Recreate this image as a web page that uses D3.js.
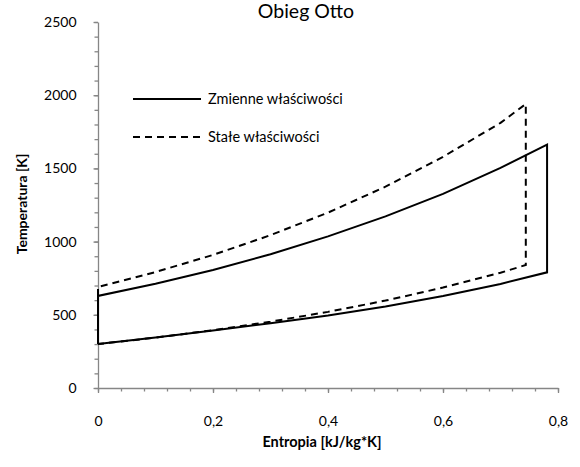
<!DOCTYPE html>
<html>
<head>
<meta charset="utf-8">
<script src="https://cdn.jsdelivr.net/npm/d3@7"></script>
<style>
    body { margin: 0; background: #fff; }
    text { font-family: Lato, "Open Sans", sans-serif; fill: #000; }
</style>
</head>
<body>
<div id="wykres"></div>
<script>
// T-s diagram of the Otto cycle, both series are closed loops:
// 1 -> 2 (isentropic compression), 2 -> 3 (heat in), 3 -> 4 (expansion), 4 -> 1 (heat out)
const chartTitle = "Obieg Otto";
const xTitle = "Entropia [kJ/kg*K]";
const yTitle = "Temperatura [K]";

const seriesNames = ["Zmienne właściwości", "Stałe właściwości"];

// variable properties (solid)
const zmienneS = [0, 0, 0.1, 0.2, 0.3, 0.4, 0.5, 0.6, 0.7, 0.781, 0.781, 0.7, 0.6, 0.5, 0.4, 0.3, 0.2, 0.1, 0];
const zmienneT = [300, 629, 712, 806, 914, 1036, 1172, 1326, 1503, 1662, 790, 711, 628, 557, 495, 442, 393, 345, 300];

// constant properties (dashed)
const staleS = [0, 0, 0.1, 0.2, 0.3, 0.4, 0.5, 0.6, 0.7, 0.744, 0.744, 0.7, 0.6, 0.5, 0.4, 0.3, 0.2, 0.1, 0];
const staleT = [300, 690, 792, 909, 1044, 1198, 1375, 1579, 1811, 1940, 840, 787, 686, 597, 520, 453, 395, 344, 300];

const xTicks = [0, 0.2, 0.4, 0.6, 0.8];
const yTicks = [0, 500, 1000, 1500, 2000, 2500];

const fmt = d => String(d).replace(".", ",");

let margin = { top: 22, right: 22, bottom: 79, left: 98 },
    width = 580 - margin.left - margin.right,
    height = 467 - margin.top - margin.bottom;

let svg = d3.select("#wykres")
    .append("svg")
    .attr("width", 580)
    .attr("height", 467);

let g = svg.append("g")
    .attr("transform", "translate(" + margin.left + "," + margin.top + ")");

let x = d3.scaleLinear().domain([0, 0.8]).range([0, width]);
let y = d3.scaleLinear().domain([0, 2500]).range([height, 0]);

// minor ticks first, then the major axis on top
g.append("g")
    .attr("transform", "translate(0," + height + ")")
    .call(d3.axisBottom(x).tickValues(d3.range(0, 0.8001, 0.04)).tickSize(3.5).tickFormat(""))
    .call(a => a.select(".domain").remove());
g.append("g")
    .call(d3.axisLeft(y).tickValues(d3.range(0, 2501, 100)).tickSize(3.5).tickFormat(""))
    .call(a => a.select(".domain").remove());

let xAxis = g.append("g")
    .attr("transform", "translate(0," + height + ")")
    .call(d3.axisBottom(x).tickValues(xTicks).tickSize(5).tickSizeOuter(0).tickPadding(23).tickFormat(fmt));
let yAxis = g.append("g")
    .call(d3.axisLeft(y).tickValues(yTicks).tickSize(4.5).tickSizeOuter(0).tickPadding(17).tickFormat(d3.format("d")));

[xAxis, yAxis].forEach(a => {
    a.selectAll("text").style("font-size", "14px").attr("fill", "#000");
    a.select(".domain").attr("stroke", "#868686");
});
g.selectAll(".tick line").attr("stroke", "#868686").attr("stroke-width", 1.3);
g.selectAll(".domain").attr("stroke-width", 1.3);

// series
function pts(s, t) { return s.map((v, i) => [v, t[i]]); }
let line = d3.line()
    .x(d => x(d[0]))
    .y(d => y(d[1]));

g.append("path")
    .datum(pts(zmienneS, zmienneT))
    .attr("fill", "none")
    .attr("stroke", "#000")
    .attr("stroke-width", 2)
    .attr("stroke-linejoin", "miter")
    .attr("d", line);

g.append("path")
    .datum(pts(staleS, staleT))
    .attr("fill", "none")
    .attr("stroke", "#000")
    .attr("stroke-width", 2)
    .attr("stroke-dasharray", "7,5")
    .attr("d", line);

// legend inside the plot area
let legend = svg.append("g").attr("transform", "translate(133,0)");
[[99, null], [137, "7,5"]].forEach((l, i) => {
    legend.append("line")
        .attr("x1", 0).attr("x2", 68)
        .attr("y1", l[0]).attr("y2", l[0])
        .attr("stroke", "#000")
        .attr("stroke-width", 2)
        .attr("stroke-dasharray", l[1]);
    legend.append("text")
        .attr("x", 75)
        .attr("y", l[0] + 5)
        .style("font-size", "14.5px")
        .text(seriesNames[i]);
});

// titles
svg.append("text")
    .attr("x", 306)
    .attr("y", 18)
    .attr("text-anchor", "middle")
    .style("font-size", "19.5px")
    .text(chartTitle);

svg.append("text")
    .attr("x", 322)
    .attr("y", 447)
    .attr("text-anchor", "middle")
    .style("font-size", "14.5px")
    .style("font-weight", "bold")
    .text(xTitle);

svg.append("text")
    .attr("transform", "translate(27,204) rotate(-90)")
    .attr("text-anchor", "middle")
    .style("font-size", "14px")
    .style("font-weight", "bold")
    .text(yTitle);
</script>
</body>
</html>
